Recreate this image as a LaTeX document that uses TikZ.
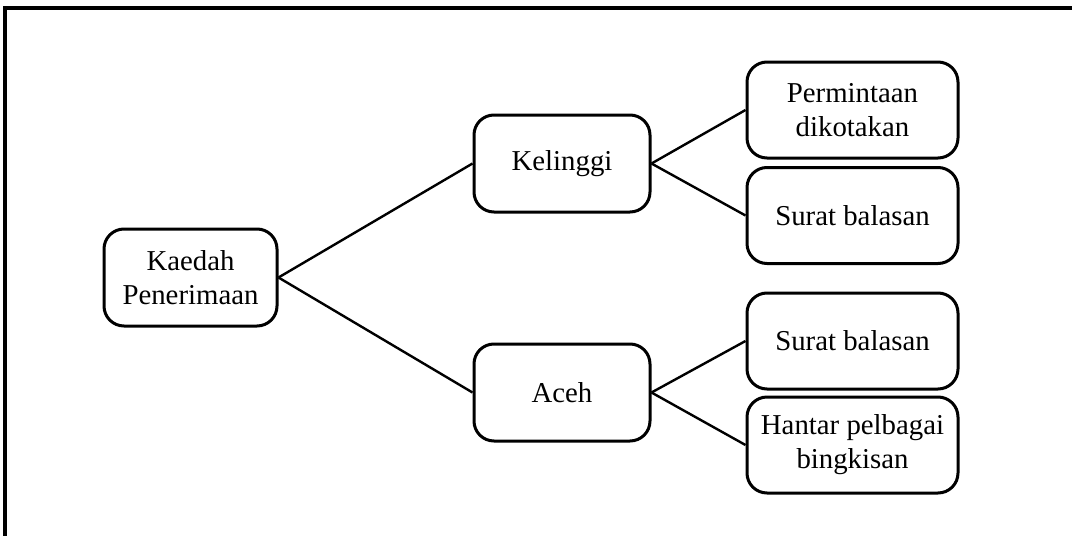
\documentclass[tikz,border=0pt]{standalone}
\usepackage{fontspec}
\setmainfont{Liberation Serif}
\usepackage{xcolor}
\definecolor{chart-black}{HTML}{000000}
\usepackage{tikz}

\tikzset{
    box/.style={draw=chart-black, line width=1.5pt, rounded corners=10pt, align=center,
        inner sep=0pt, font=\fontsize{14.4}{17}\selectfont},
    link/.style={draw=chart-black, line width=1.2pt}
}

\begin{document}
\begin{tikzpicture}[x=0.5pt, y=-0.5pt]

    % Frame
    \useasboundingbox (0, 0) rectangle (1072, 536);
    \draw[line width=1.6pt] (5, 560) -- (5, 8) -- (1100, 8);

    % Root
    \node[box, minimum width=86.5pt, minimum height=48.5pt] (kaedah) at (190.5, 277.5) {Kaedah\\Penerimaan};

    % Regions
    \node[box, minimum width=88pt, minimum height=48.5pt] (kelinggi) at (562, 163.5) {Kelinggi};
    \node[box, minimum width=88pt, minimum height=48.5pt] (aceh) at (562, 392.5) {Aceh};

    % Replies
    \node[box, minimum width=105.5pt, minimum height=48pt] (permintaan) at (852.5, 110) {Permintaan\\dikotakan};
    \node[box, minimum width=105.5pt, minimum height=48pt] (suratA) at (852.5, 215.5) {Surat balasan};
    \node[box, minimum width=105.5pt, minimum height=48pt] (suratB) at (852.5, 341) {Surat balasan};
    \node[box, minimum width=105.5pt, minimum height=48pt] (hantar) at (852.5, 445) {Hantar pelbagai\\bingkisan};

    % Links
    \draw[link] (kaedah.east) -- (kelinggi.west);
    \draw[link] (kaedah.east) -- (aceh.west);
    \draw[link] (kelinggi.east) -- (permintaan.west);
    \draw[link] (kelinggi.east) -- (suratA.west);
    \draw[link] (aceh.east) -- (suratB.west);
    \draw[link] (aceh.east) -- (hantar.west);

\end{tikzpicture}
\end{document}
